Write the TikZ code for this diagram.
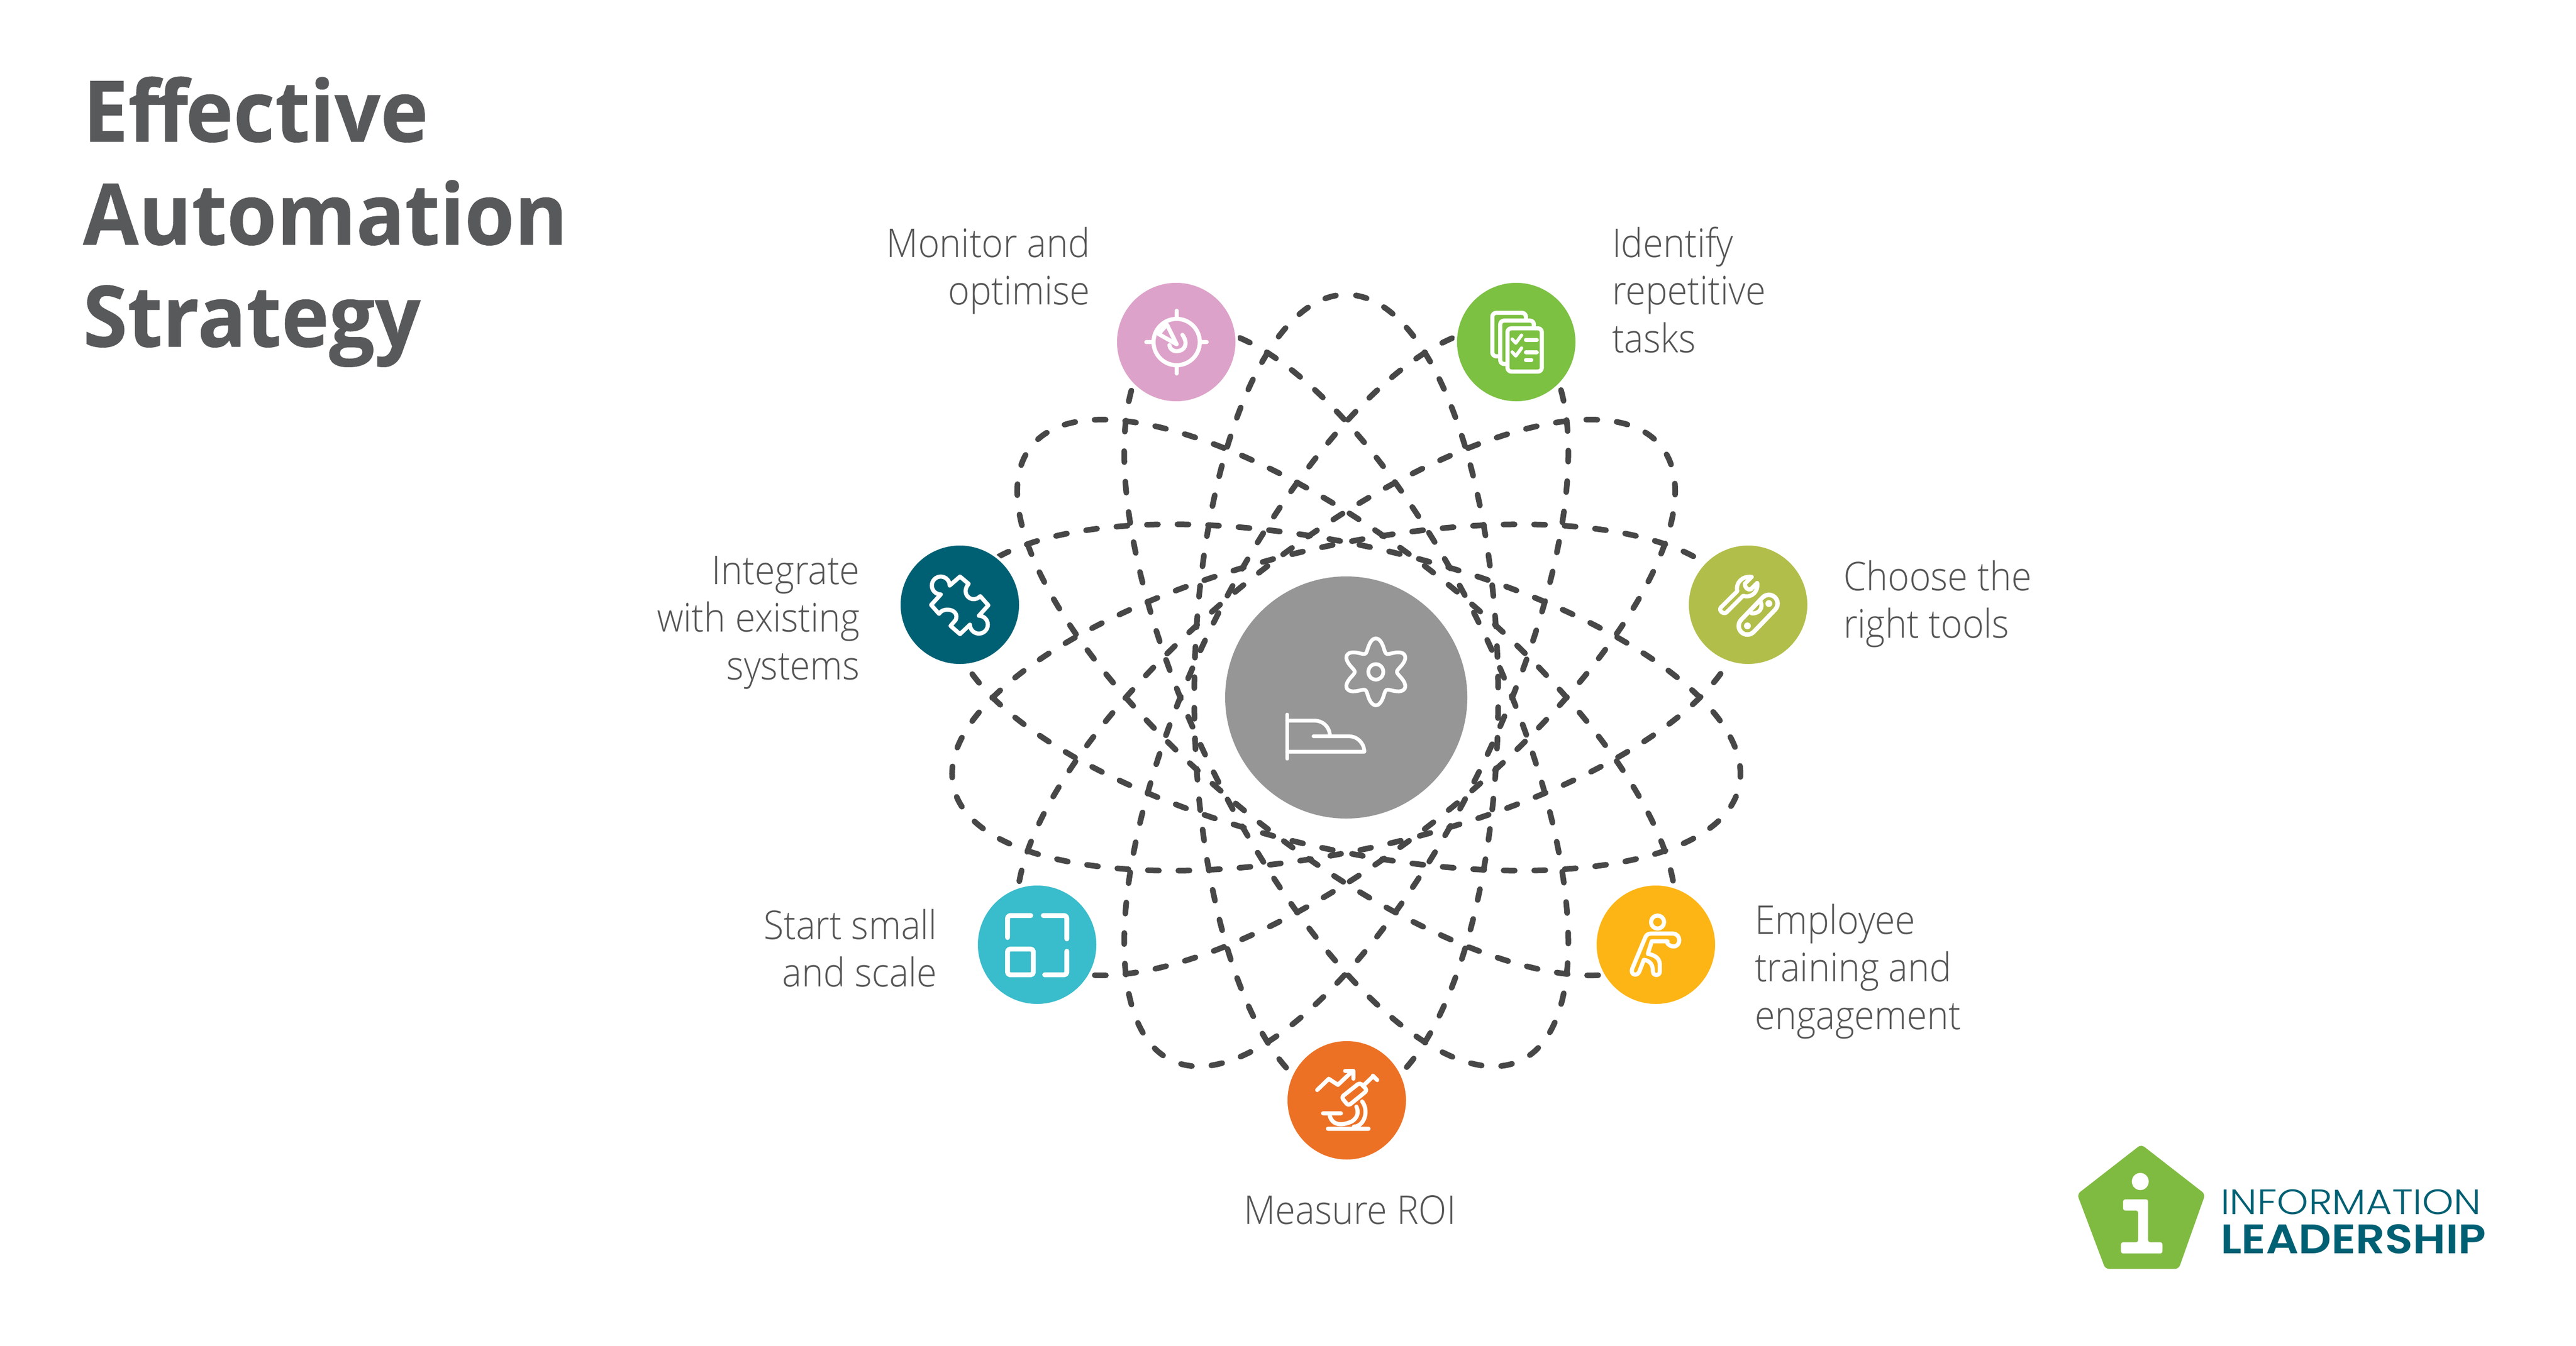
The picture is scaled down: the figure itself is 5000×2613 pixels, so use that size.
\documentclass[tikz,border=0pt]{standalone}
\usepackage{fontspec}
\setmainfont{Open Sans}
\newfontfamily\titlef[FakeStretch=0.95,FakeBold=0.35]{Open Sans Bold}
\newfontfamily\lightf[FakeStretch=0.925]{Open Sans Light}
\newfontfamily\logoL[FakeStretch=1.137]{Poppins Light}
\newfontfamily\logoB[FakeStretch=1.11]{Poppins SemiBold}
\definecolor{orbitc}{HTML}{474747}
\definecolor{titlec}{HTML}{58595B}
\definecolor{labelc}{HTML}{555555}
\definecolor{hub}{HTML}{969696}
\definecolor{cpink}{HTML}{DDA2C9}
\definecolor{cgreen}{HTML}{7CC142}
\definecolor{cteal}{HTML}{006073}
\definecolor{colive}{HTML}{B2BE4A}
\definecolor{cyellow}{HTML}{FDB515}
\definecolor{corange}{HTML}{EC7125}
\definecolor{ccyan}{HTML}{39BCCB}
\definecolor{lgreen}{HTML}{80BB41}
\newcommand\fl{\rule{0pt}{14pt}}
\tikzset{
  orbit/.style={draw=orbitc,line width=2.2pt,line cap=round,dash pattern=on 4.3pt off 7.56pt,dash phase=8.08pt},
  badge/.style={circle,minimum size=47pt,inner sep=0pt,draw=white,line width=1pt},
  ic/.style={draw=white,line width=1.6pt,line cap=round,line join=round},
  lab/.style={font=\lightf\fontsize{15.4}{18.5}\selectfont,text=labelc,inner sep=0pt},
  ttl/.style={font=\titlef\fontsize{33}{40}\selectfont,text=titlec,inner sep=0pt,anchor=base west},
  zoomthree/.style={x=0.06667pt,y=-0.06667pt},
}
\begin{document}
\begin{tikzpicture}[x=0.2pt,y=-0.2pt]
\useasboundingbox (0,0) rectangle (5000,2613);
\fill[white] (0,0) rectangle (5000,2613);
\coordinate (o) at (2613,1354);
% orbits
\foreach \k in {0,...,6}{
  \draw[orbit,rotate around={90+\k*360/7:(o)}] (o) ellipse [x radius=782,y radius=295];
}
% hub and badges
\node[circle,fill=hub,minimum size=94pt,inner sep=0pt] (hubc) at (o) {};
\node[badge,fill=cpink] (pink) at (2283,664) {};
\node[badge,fill=cgreen] (green) at (2943,664) {};
\node[badge,fill=colive] (olive) at (3393,1174) {};
\node[badge,fill=cyellow] (yellow) at (3214,1834) {};
\node[badge,fill=corange] (orange) at (2614,2136) {};
\node[badge,fill=ccyan] (cyan) at (2013,1834) {};
\node[badge,fill=cteal] (teal) at (1863,1174) {};
% title
\node[ttl] (t1) at (160,275) {Ef\kern-1pt f\kern-1pt ective};
\node[ttl] (t2) at (160,475) {Automation};
\node[ttl] (t3) at (160,673) {Strategy};
% labels
\node[lab,anchor=north east,align=right] (l1) at (2117,428) {\fl Monitor and\\optimise};
\node[lab,anchor=north west,align=left] (l2) at (3128,428) {\fl Identify\\repetitive\\tasks};
\node[lab,anchor=north west,align=left] (l3) at (3577,1075) {\fl Choose the\\right tools};
\node[lab,anchor=north west,align=left] (l4) at (3405,1742) {\fl Employee\\training and\\engagement};
\node[lab,anchor=base] (l5) at (2620,2376) {Measure ROI};
\node[lab,anchor=north east,align=right] (l6) at (1820,1752) {\fl Start small\\and scale};
\node[lab,anchor=north east,align=right] (l7) at (1670,1063) {\fl Integrate\\with existing\\systems};
% hub icon
\begin{scope}[shift={(2300,1080)},x=0.07654pt,y=-0.07143pt]
  \draw[ic,line width=1.45pt] plot[smooth cycle,samples=72,domain=0:355,variable=\t] ({968+(138+31*cos(6*\t))*cos(\t+30)},{628+(148+34*cos(6*\t))*sin(\t+30)});
  \draw[ic,line width=1.45pt] (968,628) ellipse [x radius=38,y radius=42];
  \draw[ic,line width=1.45pt] (518,860) -- (518,1100);
  \draw[ic,line width=1.45pt] (518,893) -- (655,893) .. controls (700,893) and (730,925) .. (735,968);
  \draw[ic,line width=1.45pt] (652,978) -- (830,978) .. controls (875,978) and (908,1015) .. (910,1062) -- (518,1062);
\end{scope}
% target icon
\begin{scope}[shift={(2100,500)},x=0.14035pt,y=-0.06667pt]
  \draw[ic] (262,492) ellipse [x radius=64,y radius=135];
  \draw[ic] (262,310) -- (262,345) (262,640) -- (262,675) (178,492) -- (198,492) (326,492) -- (345,492);
  \draw[ic] (235,390) -- (262,505) -- (212,445) -- cycle;
  \draw[ic] (278,450) .. controls (295,500) and (285,545) .. (262,545) .. controls (250,545) and (243,530) .. (242,510);
\end{scope}
% documents icon
\begin{scope}[shift={(2100,500)},x=0.14035pt,y=-0.06667pt]
  \draw[ic,rounded corners=1.5pt] (1135,322) rectangle (1228,575);
  \draw[ic,fill=cgreen,rounded corners=1.5pt] (1157,367) rectangle (1250,620);
  \draw[ic,fill=cgreen,rounded corners=1.5pt] (1177,412) rectangle (1272,664);
  \draw[ic,line width=1.3pt] (1190,475) -- (1200,498) -- (1216,452);
  \draw[ic,line width=1.3pt] (1190,550) -- (1200,573) -- (1216,527);
  \draw[ic] (1228,480) -- (1258,480) (1228,552) -- (1258,552) (1228,597) -- (1243,597);
\end{scope}
% wrench and pin
\begin{scope}[shift={(3240,1020)},zoomthree]
  \draw[ic] (396,383) .. controls (385,335) and (425,292) .. (480,300) -- (440,340) .. controls (440,365) and (460,378) .. (475,372) -- (512,335) .. controls (520,385) and (480,425) .. (430,410) -- (335,505) .. controls (320,522) and (285,498) .. (300,478) -- cycle;
  \draw[white,line width=8.5pt,line cap=round] (455,585) -- (580,455);
  \draw[colive,line width=5pt,line cap=round] (455,585) -- (580,455);
  \fill[white] (455,585) circle [radius=20] (580,455) circle [radius=20];
  \draw[ic] (530,440) .. controls (550,480) and (525,515) .. (480,512);
\end{scope}
% runner
\begin{scope}[shift={(3060,1700)},zoomthree]
  \draw[ic] (472,270) circle [radius=38];
  \draw[ic] (530,382) -- (438,382) -- (415,455) .. controls (470,465) and (485,490) .. (485,520) -- (485,558) .. controls (485,585) and (445,585) .. (445,558) .. controls (445,520) and (430,495) .. (392,490) -- (365,560) .. controls (350,590) and (310,575) .. (325,540) -- (398,365) .. controls (405,345) and (415,337) .. (435,337) -- (560,337) .. controls (610,337) and (610,412) .. (565,412) .. controls (550,412) and (540,405) .. (530,395);
\end{scope}
% microscope
\begin{scope}[shift={(2460,2000)},x=0.06711pt,y=-0.06667pt]
  \draw[ic] (288,348) -- (355,283) -- (408,318) -- (490,240);
  \draw[ic] (450,237) -- (498,237) -- (498,282);
  \draw[ic,rounded corners=1pt] (428,390) -- (535,305) -- (578,350) -- (468,440) -- cycle;
  \draw[ic] (560,318) -- (610,270) (610,265) -- (635,290);
  \draw[ic] (548,415) .. controls (590,470) and (560,560) .. (500,562) (350,574) -- (585,574) (322,484) -- (425,484);
  \draw[ic] (360,495) .. controls (375,560) and (440,555) .. (490,530) .. controls (520,510) and (530,480) .. (515,445);
\end{scope}
% frame icon
\begin{scope}[shift={(1860,1700)},zoomthree]
  \draw[ic,line width=1.9pt,rounded corners=1pt] (287,360) -- (287,232) -- (422,232);
  \draw[ic,line width=1.9pt,rounded corners=1pt] (495,232) -- (632,232) -- (632,368);
  \draw[ic,line width=1.9pt,rounded corners=1pt] (632,440) -- (632,577) -- (503,577);
  \draw[ic,line width=1.9pt,rounded corners=1pt] (287,427) rectangle (437,577);
\end{scope}
% puzzle icon
\begin{scope}[shift={(1700,1020)},zoomthree]
  \draw[ic] (430,350) arc [start angle=0,end angle=-270,radius=52] -- (322,463) -- (368,515) .. controls (395,470) and (490,490) .. (465,550) -- (435,585) -- (490,633) -- (548,578) arc [start angle=180,end angle=-90,radius=52] -- (655,465) -- (608,412) .. controls (560,460) and (490,400) .. (540,340) -- (490,298) -- cycle;
\end{scope}
% logo
\begin{scope}[shift={(3950,2180)},x=0.12121pt,y=-0.06667pt]
  \fill[lgreen,rounded corners=1.5pt] (340,125) -- (545,415) -- (460,850) -- (225,850) -- (135,415) -- cycle;
  \fill[white] (337,341) ellipse [x radius=27,y radius=50];
  \fill[white,rounded corners=0.8pt] (282,445) -- (362,445) -- (362,695) -- (408,695) -- (408,760) -- (275,760) -- (275,695) -- (330,695) -- (330,510) -- (282,510) -- cycle;
\end{scope}
\node[anchor=base west,inner sep=0pt,text=cteal,font=\logoL\fontsize{13.7}{14}\selectfont] (lg1) at (4309,2357) {INFORMATION};
\node[anchor=base west,inner sep=0pt,text=cteal,font=\logoB\fontsize{16}{16}\selectfont] (lg2) at (4309,2433) {LEADERSHIP};
\end{tikzpicture}
\end{document}
